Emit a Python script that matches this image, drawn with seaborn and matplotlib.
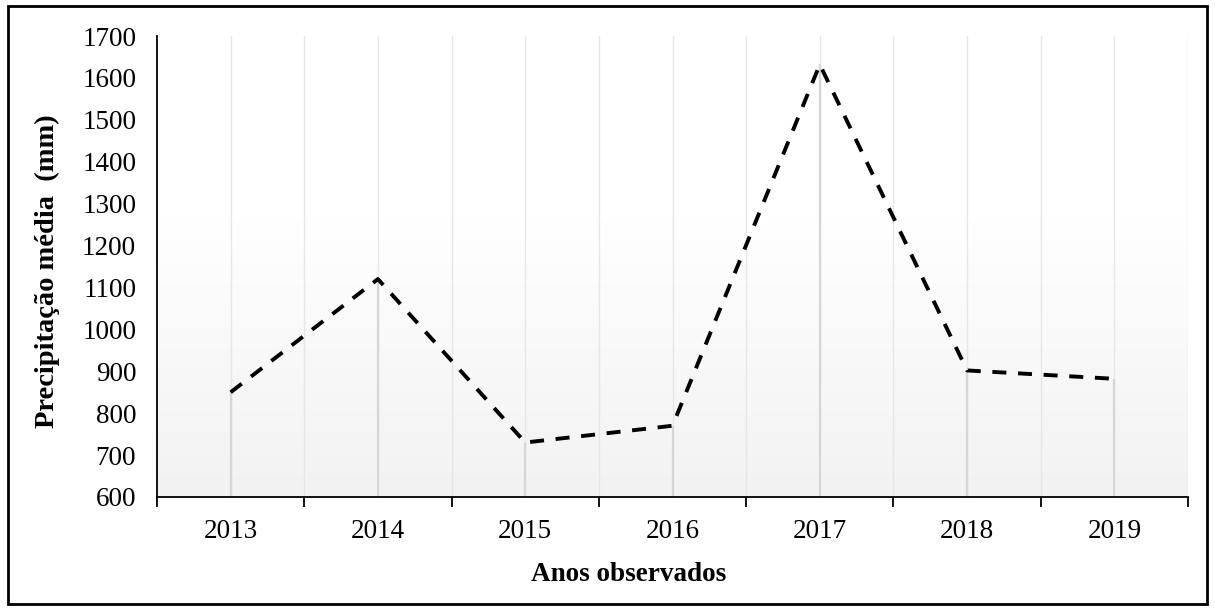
import numpy as np
import pandas as pd
import matplotlib
matplotlib.use("Agg")
import matplotlib.pyplot as plt
from matplotlib.colors import LinearSegmentedColormap
from matplotlib.patches import Rectangle
import seaborn as sns

# Annual mean precipitation (mm)
years = [2013, 2014, 2015, 2016, 2017, 2018, 2019]
precip = [850, 1120, 730, 770, 1632, 902, 882]
y_ticks = list(range(600, 1701, 100))

x_label = "Anos observados"
y_label = "Precipitação média  (mm)"

sns.set_theme(style="white")
plt.rcParams["font.family"] = ["Liberation Serif", "DejaVu Serif"]

df = pd.DataFrame({"ano": years, "precipitacao": precip})

fig = plt.figure(figsize=(12.15, 6.10), dpi=100)
ax = fig.add_axes([157 / 1215, 1 - 497 / 610, 1031 / 1215, 461 / 610])

x0, x1 = years[0] - 0.5, years[-1] + 0.5
y0, y1 = y_ticks[0], y_ticks[-1]

# soft vertical gradient behind the plot area
grad = np.linspace(0, 1, 256)
grad = np.clip(grad / 0.6, 0, 1)[:, None]
cmap = LinearSegmentedColormap.from_list("bg", ["#f2f2f2", "#ffffff"])
ax.imshow(grad, extent=[x0, x1, y0, y1], origin="lower", aspect="auto",
          cmap=cmap, vmin=0, vmax=1, zorder=0)

# vertical gridlines at every half category
for gx in np.arange(x0 + 0.5, x1 + 0.01, 0.5):
    ax.axvline(gx, color="#e6e6e6", lw=1.0, zorder=1)

# drop lines from each point to the axis
ax.vlines(df["ano"], y0, df["precipitacao"], color="#d6d6d6", lw=1.6, zorder=2)

sns.lineplot(data=df, x="ano", y="precipitacao", ax=ax, color="black",
             lw=2.8, linestyle=(0, (3.6, 3.0)), zorder=3)

ax.set_xlim(x0, x1)
ax.set_ylim(y0, y1)

fs = 19.5
ax.set_yticks(y_ticks)
ax.set_yticklabels([str(v) for v in y_ticks], fontsize=fs)
ax.set_xticks(years)
ax.set_xticklabels([str(y) for y in years], fontsize=fs)
ax.set_xticks(np.arange(x0, x1 + 0.01, 1.0), minor=True)

ax.tick_params(axis="y", which="major", direction="out", length=7, width=1.3,
               color="black", pad=8, labelcolor="black")
ax.tick_params(axis="x", which="major", length=0, pad=16, labelcolor="black")
ax.tick_params(axis="x", which="minor", direction="out", length=7, width=1.3,
               color="black", bottom=True)

for side in ["top", "right"]:
    ax.spines[side].set_visible(False)
for side in ["left", "bottom"]:
    ax.spines[side].set_color("black")
    ax.spines[side].set_linewidth(1.3)
    ax.spines[side].set_zorder(4)

ax.set_xlabel(x_label, fontsize=fs, fontweight="bold", color="black")
ax.set_ylabel(y_label, fontsize=20.5, fontweight="bold", color="black")
ax.xaxis.set_label_coords(0.457, -0.169)
ax.yaxis.set_label_coords(-0.106, 0.49)
ax.xaxis.label.set_va("center")
ax.yaxis.label.set_va("center")

# outer frame around the whole figure
fig.patches.append(Rectangle((8 / 1215, 6 / 610), 1199 / 1215, 598 / 610,
                             transform=fig.transFigure, fill=False,
                             edgecolor="black", lw=2.0, zorder=10))

fig.savefig("out.png", dpi=100, facecolor="white")
